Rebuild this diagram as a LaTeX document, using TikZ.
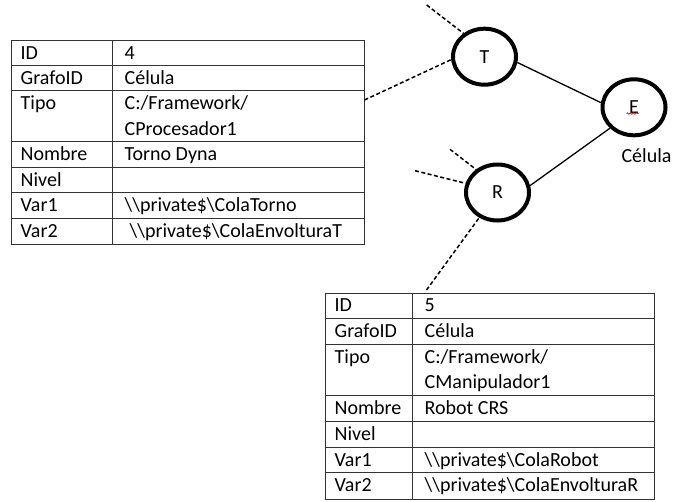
\documentclass[tikz,border=0pt]{standalone}
\usepackage{fontspec}
\setmainfont{Carlito}
\usetikzlibrary{calc,shapes.geometric,decorations.pathmorphing}
\newcommand\bsl{\textbackslash}

\begin{document}
\begin{tikzpicture}[
        x=1pt, y=-1pt,
        estado/.style={ellipse,draw,line width=4pt,minimum width=63pt,minimum height=56pt,inner sep=0pt,font=\fontsize{20}{24}\selectfont},
        tabla/.style={rectangle,draw=black!80,line width=1pt,inner sep=0pt,anchor=north west},
        rejilla/.style={draw=black!80,line width=1pt},
        celda/.style={anchor=base west,inner sep=0pt,font=\fontsize{20}{24}\selectfont},
        enlace/.style={line width=1.3pt},
        punteado/.style={line width=1.5pt,dash pattern=on 4pt off 2.5pt}
    ]
        \useasboundingbox (0,0) rectangle (685,501);

        % estados
        \node[estado] (T) at (484.5,56.7) {T};
        \node[estado] (E) at (634,107.3) {E};
        \node[estado] (R) at (497.5,192.5) {R};
        \node[celda, anchor=center] (Ecel) at (646.5,156) {Célula};
        \draw[red, line width=0.7pt, decorate, decoration={snake,amplitude=0.8pt,segment length=3pt}] (626.5,113.5) -- (638.5,113.5);

        % tabla del torno
        \node[tabla, minimum width=353pt, minimum height=203.5pt] (tabT) at (10.5,40) {};
        \foreach \k in {1,2,4,5,6,7}
            \draw[rejilla] ($(tabT.north west)+(0,\k*25.44)$) -- ($(tabT.north east)+(0,\k*25.44)$);
        \draw[rejilla] ($(tabT.north west)+(102,0)$) -- ($(tabT.south west)+(102,0)$);
        \foreach \fila/\campo in {1/ID,2/GrafoID,3/Tipo,5/Nombre,6/Nivel,7/Var1,8/Var2}
            \node[celda] (tT-c\fila) at ($(tabT.north west)+(10,{(\fila-1)*25.44+19})$) {\campo};
        \foreach \fila/\valor in {1/4,2/Célula,3/{C:/Framework/},4/CProcesador1,5/{Torno Dyna},
                7/{\bsl\bsl private\$\bsl ColaTorno},8/{\hspace*{5pt}\bsl\bsl private\$\bsl ColaEnvolturaT}}
            \node[celda] (tT-v\fila) at ($(tabT.north west)+(114,{(\fila-1)*25.44+19})$) {\valor};

        % tabla del robot
        \node[tabla, minimum width=329.5pt, minimum height=206pt] (tabR) at (324.5,292.5) {};
        \foreach \k in {1,2,4,5,6,7}
            \draw[rejilla] ($(tabR.north west)+(0,\k*25.75)$) -- ($(tabR.north east)+(0,\k*25.75)$);
        \draw[rejilla] ($(tabR.north west)+(88.3,0)$) -- ($(tabR.south west)+(88.3,0)$);
        \foreach \fila/\campo in {1/ID,2/GrafoID,3/Tipo,5/Nombre,6/Nivel,7/Var1,8/Var2}
            \node[celda] (tR-c\fila) at ($(tabR.north west)+(10,{(\fila-1)*25.75+19})$) {\campo};
        \foreach \fila/\valor in {1/5,2/Célula,3/{C:/Framework/},4/CManipulador1,5/{Robot CRS},
                7/{\bsl\bsl private\$\bsl ColaRobot},8/{\bsl\bsl private\$\bsl ColaEnvolturaR}}
            \node[celda] (tR-v\fila) at ($(tabR.north west)+(100,{(\fila-1)*25.75+19})$) {\valor};

        % extremos de los enlaces
        \coordinate (tabT-borde) at ($(tabT.north east)+(0,60)$);
        \coordinate (tabR-borde) at ($(tabR.north west)+(102,-2.5)$);
        \coordinate (T-libre) at (426.7,5);
        \coordinate (R-libre1) at (450,149.3);
        \coordinate (R-libre2) at (415,170.7);

        \draw[enlace] (T.-10) -- (E.172);
        \draw[enlace] (E.221) -- (R.12);
        \draw[punteado] (T-libre) -- (T.132);
        \draw[punteado] (tabT-borde) -- (T.185);
        \draw[punteado] (R-libre1) -- (R.133);
        \draw[punteado] (R-libre2) -- (R.164);
        \draw[punteado] (tabR-borde) -- (R.234);
    \end{tikzpicture}
\end{document}
